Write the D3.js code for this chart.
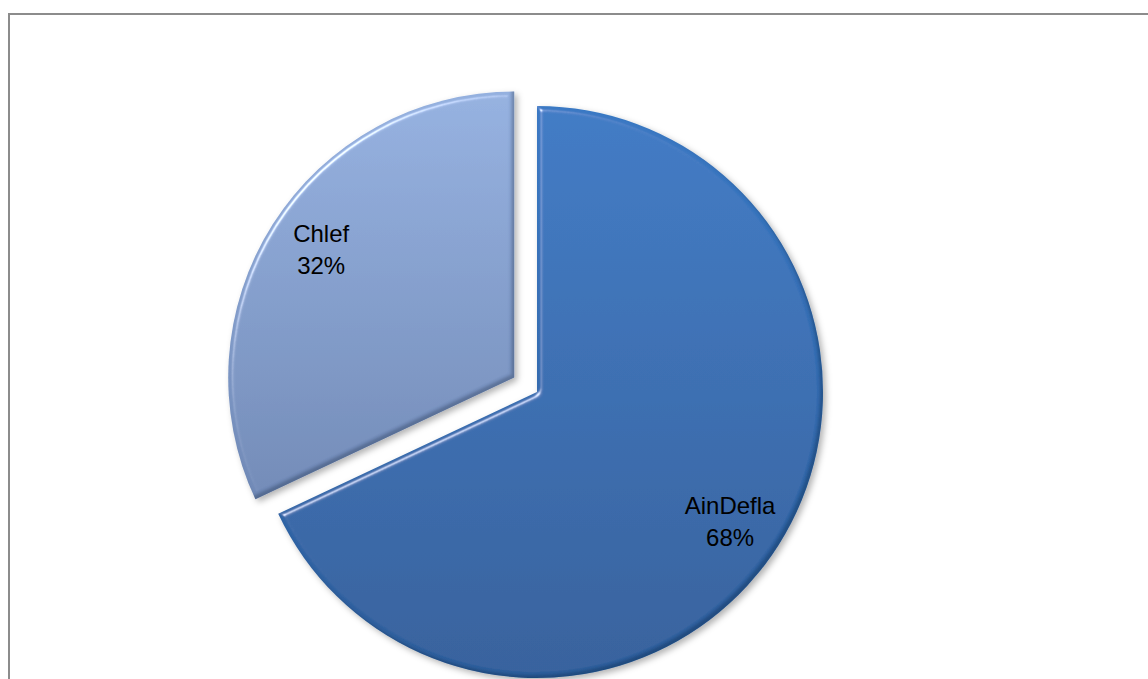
<!DOCTYPE html>
<html>
<head>
<meta charset="utf-8">
<script src="https://cdn.jsdelivr.net/npm/d3@7"></script>
<style>
  html, body { margin: 0; padding: 0; background: #fff; }
  svg { display: block; }
</style>
</head>
<body>
<svg id="chart" width="1148" height="679"></svg>
<script>
// Share of the total by wilaya
const categories = ["AinDefla", "Chlef"];
const values = [68, 32];
const percentLabels = ["68%", "32%"];
const explodedCategory = "Chlef";

const width = 1148, height = 679;
const svg = d3.select("#chart");

// Chart-area frame (top and left edges visible)
svg.append("rect")
  .attr("x", 9).attr("y", 14)
  .attr("width", 1160).attr("height", 700)
  .attr("fill", "#fff")
  .attr("stroke", "#8c8c8c")
  .attr("stroke-width", 2);

const defs = svg.append("defs");

// Vertical gradients per slice
const grads = {
  AinDefla: ["#3b79c4", "#2f5e9b"],
  Chlef: ["#94b0df", "#7089b6"]
};
Object.entries(grads).forEach(([k, c]) => {
  const g = defs.append("linearGradient")
    .attr("id", "grad-" + k)
    .attr("x1", 0).attr("y1", 0).attr("x2", 0).attr("y2", 1);
  g.append("stop").attr("offset", "0%").attr("stop-color", c[0]);
  g.append("stop").attr("offset", "100%").attr("stop-color", c[1]);
});

// Soft bevel (light rim upper-left, dark rim lower-right) plus drop shadow
const f = defs.append("filter").attr("id", "bevel")
  .attr("x", "-10%").attr("y", "-10%").attr("width", "125%").attr("height", "125%");
f.append("feGaussianBlur").attr("in", "SourceAlpha").attr("stdDeviation", 2.5).attr("result", "blur");
const spec = f.append("feSpecularLighting")
  .attr("in", "blur").attr("surfaceScale", 4)
  .attr("specularConstant", 0.9).attr("specularExponent", 40)
  .attr("lighting-color", "#ffffff").attr("result", "spec");
spec.append("feDistantLight").attr("azimuth", 225).attr("elevation", 40);
f.append("feComposite").attr("in", "spec").attr("in2", "SourceAlpha").attr("operator", "in").attr("result", "specIn");
f.append("feComposite").attr("in", "SourceGraphic").attr("in2", "specIn")
  .attr("operator", "arithmetic").attr("k1", 0).attr("k2", 1).attr("k3", 0.8).attr("k4", 0)
  .attr("result", "lit");
// dark inner rim
f.append("feGaussianBlur").attr("in", "SourceAlpha").attr("stdDeviation", 1.5).attr("result", "iblur");
f.append("feOffset").attr("in", "iblur").attr("dx", -3).attr("dy", -3).attr("result", "ioff");
f.append("feComposite").attr("in", "SourceAlpha").attr("in2", "ioff").attr("operator", "out").attr("result", "rim");
f.append("feFlood").attr("flood-color", "#0d2244").attr("flood-opacity", 0.45).attr("result", "rimColor");
f.append("feComposite").attr("in", "rimColor").attr("in2", "rim").attr("operator", "in").attr("result", "darkRim");
f.append("feGaussianBlur").attr("in", "SourceAlpha").attr("stdDeviation", 3).attr("result", "sblur");
f.append("feOffset").attr("in", "sblur").attr("dx", 3).attr("dy", 3).attr("result", "soff");
f.append("feFlood").attr("flood-color", "#000").attr("flood-opacity", 0.3);
f.append("feComposite").attr("in2", "soff").attr("operator", "in").attr("result", "shadow");
const m = f.append("feMerge");
m.append("feMergeNode").attr("in", "shadow");
m.append("feMergeNode").attr("in", "lit");
m.append("feMergeNode").attr("in", "darkRim");

const cx = 537, cy = 392, radius = 286, explode = 27;

const pie = d3.pie().sort(null).value(d => d.value).startAngle(0).endAngle(2 * Math.PI);
const data = categories.map((c, i) => ({ name: c, value: values[i], pct: percentLabels[i] }));
const arcs = pie(data);

const arc = d3.arc().innerRadius(0).outerRadius(radius);
const labelArc = d3.arc().innerRadius(radius * 0.82).outerRadius(radius * 0.82);

function offsetOf(d) {
  if (d.data.name !== explodedCategory) return [0, 0];
  const mid = (d.startAngle + d.endAngle) / 2;
  return [Math.sin(mid) * explode, -Math.cos(mid) * explode];
}

const g = svg.append("g").attr("transform", `translate(${cx},${cy})`);

const slices = g.selectAll("g.slice").data(arcs).join("g")
  .attr("class", "slice")
  .attr("transform", d => { const o = offsetOf(d); return `translate(${o[0]},${o[1]})`; });

slices.append("path")
  .attr("d", arc)
  .attr("fill", d => `url(#grad-${d.data.name})`)
  .attr("filter", "url(#bevel)");

// Labels sit a little inside the rim, slightly pulled toward the vertical axis
const labels = slices.append("text")
  .attr("transform", d => {
    const c = labelArc.centroid(d);
    return `translate(${c[0] * 0.975},${c[1] * 1.025})`;
  })
  .attr("text-anchor", "middle")
  .attr("font-family", "'Liberation Sans', Arial, sans-serif")
  .attr("font-size", 24)
  .attr("fill", "#000");
labels.append("tspan").attr("x", 0).attr("y", -7).text(d => d.data.name);
labels.append("tspan").attr("x", 0).attr("y", 25).text(d => d.data.pct);
</script>
</body>
</html>
